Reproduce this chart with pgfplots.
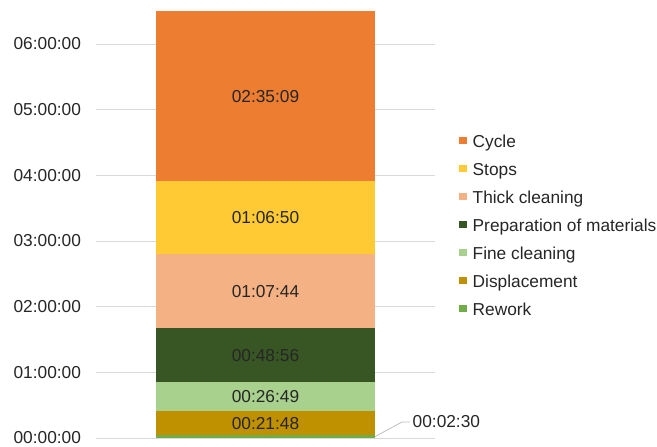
\documentclass[border=0pt]{standalone}
\usepackage{fontspec}
\setmainfont{Liberation Sans}
\usepackage{pgfplots}
\usepackage{pgfplotstable}
\pgfplotsset{compat=1.18}

\definecolor{cCycle}{RGB}{237,125,49}
\definecolor{cStops}{RGB}{255,202,51}
\definecolor{cThick}{RGB}{244,177,131}
\definecolor{cPrep}{RGB}{55,86,35}
\definecolor{cFine}{RGB}{169,209,142}
\definecolor{cDisp}{RGB}{191,144,0}
\definecolor{cRework}{RGB}{112,173,71}
\definecolor{gridgray}{RGB}{217,217,217}
\definecolor{lblgray}{RGB}{38,38,38}
\definecolor{leadgray}{RGB}{191,191,191}

% durations in hours (hh:mm:ss / 3600)
\pgfplotstableread{
name v label
Rework 0.041667 00:02:30
Displacement 0.363333 00:21:48
Fine 0.446944 00:26:49
Prep 0.815556 00:48:56
Thick 1.128889 01:07:44
Stops 1.113889 01:06:50
Cycle 2.585833 02:35:09
}\labels
\pgfplotstablecreatecol[expr accum={\pgfmathaccuma+\thisrow{v}}{0}]{cum}{\labels}

\begin{document}
\begin{tikzpicture}[font=\fontsize{17.3}{20.8}\selectfont]
\begin{axis}[
  at={(96pt,9pt)}, anchor=south west,
  scale only axis, width=339pt, height=438pt,
  xmin=0, xmax=1, ymin=0, ymax=6.67,
  ybar stacked, bar width=218pt,
  xtick=\empty,
  ytick={0,1,2,3,4,5,6},
  yticklabels={00:00:00,01:00:00,02:00:00,03:00:00,04:00:00,05:00:00,06:00:00},
  ymajorgrids, grid style={draw=gridgray, line width=0.8pt},
  axis line style={draw=none},
  major tick length=0pt,
  yticklabel style={xshift=-11.5pt, text=lblgray},
  reverse legend,
  legend cell align=left,
  legend image code/.code={\fill[#1] (0pt,-1pt) rectangle (8pt,6.5pt);},
  legend style={at={(1.0708,0.4814)}, anchor=west, draw=none, fill=none,
    inner sep=0pt, row sep=12pt, column sep=0pt, text=lblgray,
    nodes={inner sep=0pt, text height=12.5pt, text depth=3.5pt}},
]
\addplot[fill=cRework, draw=none] coordinates {(0.5,0.041667)};
\addlegendentry{\hspace{5.5pt}Rework}
\addplot[fill=cDisp, draw=none] coordinates {(0.5,0.363333)};
\addlegendentry{\hspace{5.5pt}Displacement}
\addplot[fill=cFine, draw=none] coordinates {(0.5,0.446944)};
\addlegendentry{\hspace{5.5pt}Fine cleaning}
\addplot[fill=cPrep, draw=none] coordinates {(0.5,0.815556)};
\addlegendentry{\hspace{5.5pt}Preparation of materials}
\addplot[fill=cThick, draw=none] coordinates {(0.5,1.128889)};
\addlegendentry{\hspace{5.5pt}Thick cleaning}
\addplot[fill=cStops, draw=none] coordinates {(0.5,1.113889)};
\addlegendentry{\hspace{5.5pt}Stops}
\addplot[fill=cCycle, draw=none] coordinates {(0.5,2.585833)};
\addlegendentry{\hspace{5.5pt}Cycle}
\end{axis}
\begin{axis}[
  at={(96pt,9pt)}, anchor=south west,
  scale only axis, width=339pt, height=438pt,
  xmin=0, xmax=1, ymin=0, ymax=6.67,
  hide axis, clip=false,
]
\addplot[draw=none, mark=*, mark size=0pt, nodes near coords,
  point meta=explicit symbolic, skip coords between index={0}{1},
  nodes near coords style={anchor=center, text=lblgray, inner sep=0pt}]
  table[x expr=0.5, y expr=\thisrow{cum}-0.5*\thisrow{v}, meta=label]{\labels};
\addplot[draw=none, mark=*, mark size=0pt, nodes near coords,
  point meta=explicit symbolic, skip coords between index={1}{7},
  nodes near coords style={anchor=west, text=lblgray, inner sep=0pt, xshift=147pt, yshift=14.6pt}]
  table[x expr=0.5, y expr=\thisrow{cum}-0.5*\thisrow{v}, meta=label]{\labels};
\draw[leadgray, line width=0.8pt] (axis cs:0.823,0.0208) -- (axis cs:0.9027,0.2436) -- (axis cs:0.926,0.2436);
\end{axis}
\pgfresetboundingbox
\path[use as bounding box] (0,0) rectangle (657pt,447pt);
\end{tikzpicture}
\end{document}
